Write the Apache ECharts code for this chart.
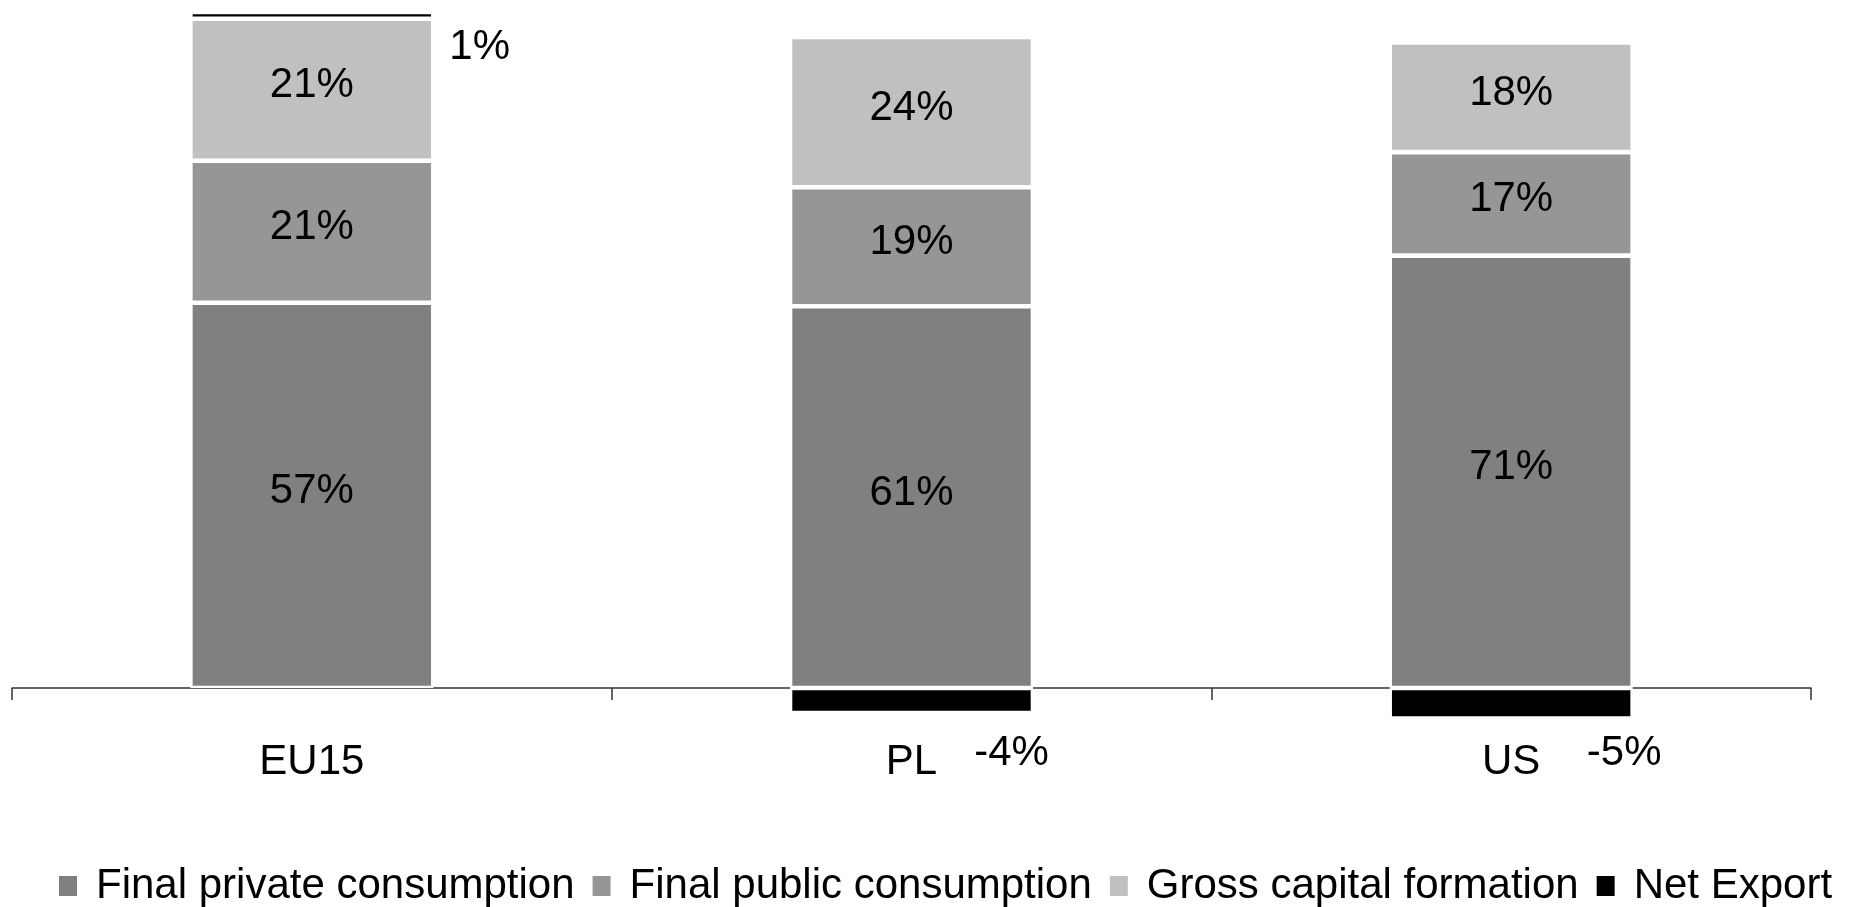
<!DOCTYPE html>
<html>
<head>
<meta charset="utf-8">
<script src="https://cdn.jsdelivr.net/npm/echarts@6/dist/echarts.min.js"></script>
<style>
html,body{margin:0;padding:0;background:#fff;}
#chart{width:1858px;height:907px;}
</style>
</head>
<body>
<div id="chart"></div>
<script>
// ---- data (percent of GDP) ----
const categories = ['EU15', 'PL', 'US'];
const seriesNames = ['Final private consumption', 'Final public consumption', 'Gross capital formation', 'Net Export'];
const privateConsumption = [57, 61, 71];
const publicConsumption = [21, 19, 17];
const capitalFormation = [21, 24, 18];
const netExport = [1, -4, -5];

// ---- styling ----
const colors = ['#808080', '#969696', '#c0c0c0', '#000000'];
const FONT = "'Liberation Sans', Arial, Helvetica, sans-serif";
const netLabelPlacement = [
  { position: 'right', offset: [11, 32] },
  { position: 'bottom', offset: [100, 14] },
  { position: 'bottom', offset: [113, 9] }
];

// 100% stacked: each bar's absolute total is normalised to 100
const allSeries = [privateConsumption, publicConsumption, capitalFormation, netExport];
const totals = categories.map((c, i) => allSeries.reduce((s, arr) => s + Math.abs(arr[i]), 0));

function toItems(arr, isNet) {
  return arr.map((v, i) => {
    const item = { value: v / totals[i] * 100, raw: v };
    if (isNet) {
      item.label = Object.assign({ show: true }, netLabelPlacement[i]);
    }
    return item;
  });
}

const series = allSeries.map((arr, k) => {
  const isNet = k === 3;
  return {
    name: seriesNames[k],
    type: 'bar',
    stack: 'total',
    barWidth: 243,
    data: toItems(arr, isNet),
    itemStyle: { color: colors[k], borderColor: '#ffffff', borderWidth: 2.3 },
    label: {
      show: !isNet,
      position: 'inside',
      offset: [0, -4],
      color: '#000',
      fontFamily: FONT,
      fontSize: 42,
      formatter: p => p.data.raw + '%'
    },
    emphasis: { disabled: true },
    animation: false
  };
});

const chart = echarts.init(document.getElementById('chart'), null, { renderer: 'canvas' });
chart.setOption({
  backgroundColor: '#ffffff',
  animation: false,
  grid: { left: 12, right: 47, top: 12, height: 716.6, containLabel: false, outerBoundsMode: 'none' },
  legend: {
    data: seriesNames,
    left: 52,
    top: 860,
    icon: 'rect',
    itemWidth: 20,
    itemHeight: 22,
    itemGap: 16,
    selectedMode: false,
    textStyle: { color: '#000', fontFamily: FONT, fontSize: 42, padding: [0, 0, 0, 13] }
  },
  xAxis: {
    type: 'category',
    data: categories,
    axisLine: { onZero: true, lineStyle: { color: '#333', width: 1.5 } },
    axisTick: { show: true, length: 12, lineStyle: { color: '#333', width: 1.5 } },
    axisLabel: { color: '#000', fontFamily: FONT, fontSize: 42, margin: 13 },
    splitLine: { show: false }
  },
  yAxis: {
    type: 'value',
    min: -6,
    max: 100,
    show: false,
    splitLine: { show: false }
  },
  series: series
});
</script>
</body>
</html>
